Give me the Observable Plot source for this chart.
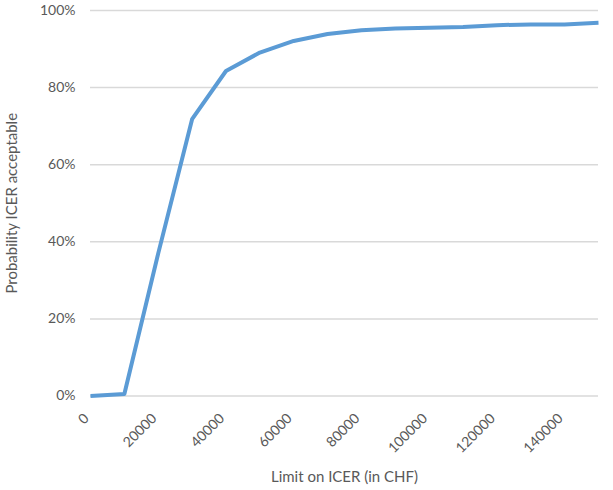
<!DOCTYPE html>
<html>
<head>
<meta charset="utf-8">
<script src="https://cdn.jsdelivr.net/npm/d3@7"></script>
<script src="https://cdn.jsdelivr.net/npm/@observablehq/plot@0.6"></script>
<style>
  html, body { margin: 0; padding: 0; background: #fff; }
  #chart { width: 613px; height: 490px; }
</style>
</head>
<body>
<div id="chart"></div>
<script>
const limits = [0, 10000, 20000, 30000, 40000, 50000, 60000, 70000, 80000, 90000, 100000, 110000, 120000, 130000, 140000, 150000];
const probabilities = [0.0, 0.005, 0.37, 0.718, 0.843, 0.891, 0.921, 0.939, 0.949, 0.953, 0.955, 0.957, 0.962, 0.964, 0.964, 0.968];
const xTicks = [0, 20000, 40000, 60000, 80000, 100000, 120000, 140000];
const yTicks = [0, 0.2, 0.4, 0.6, 0.8, 1.0];
const xTitle = "Limit on ICER (in CHF)";
const yTitle = "Probability ICER acceptable";

const data = limits.map((x, i) => ({x, y: probabilities[i]}));
const textColor = "#595959";
const font = "Lato, 'Open Sans', sans-serif";

const chart = Plot.plot({
  width: 613,
  height: 490,
  marginLeft: 90,
  marginRight: 15,
  marginTop: 10,
  marginBottom: 94.5,
  style: {fontFamily: font, color: textColor, background: "#fff"},
  x: {domain: [0, 150000]},
  y: {domain: [0, 1]},
  marks: [
    Plot.gridY(yTicks, {stroke: "#d9d9d9", strokeOpacity: 1, strokeWidth: 1.5}),
    Plot.axisY(yTicks, {
      tickSize: 0, tickPadding: 15, tickFormat: d3.format(".0%"),
      fontSize: 14, fill: textColor,
      label: yTitle, labelAnchor: "center", labelOffset: 84, labelArrow: "none"
    }),
    Plot.axisX(xTicks, {
      tickSize: 0, tickRotate: -45, tickPadding: 16, dx: -4, dy: 4, tickFormat: d => String(d),
      fontSize: 14, fill: textColor,
      label: xTitle, labelAnchor: "center", labelOffset: 86, labelArrow: "none"
    }),
    Plot.line(data, {x: "x", y: "y", stroke: "#5B9BD5", strokeWidth: 4, strokeLinejoin: "round", strokeLinecap: "butt"})
  ]
});
chart.querySelectorAll("[aria-label='y-axis label'] text, [aria-label='x-axis label'] text").forEach(t => t.setAttribute("font-size", 15));
document.getElementById("chart").appendChild(chart);
</script>
</body>
</html>
